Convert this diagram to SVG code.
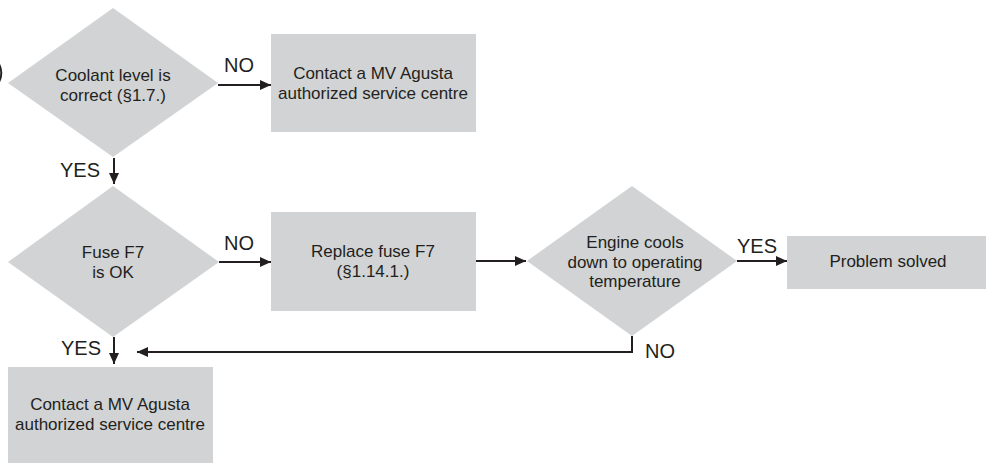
<svg xmlns="http://www.w3.org/2000/svg" width="986" height="463" viewBox="0 0 986 463">
<style>
.shape{fill:#d1d3d4;stroke:none}
.t{font-family:"Liberation Sans",Arial,sans-serif;font-size:17px;fill:#231f20;text-anchor:middle}
.lbl{font-family:"Liberation Sans",Arial,sans-serif;font-size:20px;fill:#231f20}
.conn{fill:none;stroke:#231f20;stroke-width:2}
</style>
<defs>
<marker id="arr" markerUnits="userSpaceOnUse" markerWidth="12" markerHeight="12" refX="11" refY="5" orient="auto">
<path d="M0,0 L11,5 L0,10 z" fill="#231f20"/>
</marker>
</defs>
<rect width="986" height="463" fill="#ffffff"/>
<path d="M-1,64 A20,20 0 0 1 -1,82" class="conn"/>

<g id="d1">
<polygon class="shape" points="113,8 218,83 113,157 8,83"/>
<text class="t" x="113" y="81">Coolant level is</text>
<text class="t" x="113" y="101">correct (§1.7.)</text>
</g>
<g id="b1">
<rect class="shape" x="271" y="34" width="205" height="98"/>
<text class="t" x="373" y="79">Contact a MV Agusta</text>
<text class="t" x="373" y="99">authorized service centre</text>
</g>
<g id="d2">
<polygon class="shape" points="113,186 219,262 113,337 8,262"/>
<text class="t" x="113" y="258">Fuse F7</text>
<text class="t" x="113" y="278">is OK</text>
</g>
<g id="b2">
<rect class="shape" x="271" y="212" width="205" height="99"/>
<text class="t" x="373" y="257">Replace fuse F7</text>
<text class="t" x="373" y="277">(§1.14.1.)</text>
</g>
<g id="d3">
<polygon class="shape" points="632,186 737,261 632,336 527,261"/>
<text class="t" x="635" y="248">Engine cools</text>
<text class="t" x="635" y="268">down to operating</text>
<text class="t" x="635" y="287">temperature</text>
</g>
<g id="b4">
<rect class="shape" x="787" y="236" width="199" height="53"/>
<text class="t" x="888" y="267">Problem solved</text>
</g>
<g id="b3">
<rect class="shape" x="8" y="367" width="205" height="98"/>
<text class="t" x="110" y="410">Contact a MV Agusta</text>
<text class="t" x="110" y="430">authorized service centre</text>
</g>

<g id="connectors">
<line class="conn" x1="218" y1="85" x2="271" y2="85" marker-end="url(#arr)"/>
<text class="lbl" x="224" y="72">NO</text>
<line class="conn" x1="114" y1="158" x2="114" y2="184" marker-end="url(#arr)"/>
<text class="lbl" x="60" y="177">YES</text>
<line class="conn" x1="219" y1="262" x2="271" y2="262" marker-end="url(#arr)"/>
<text class="lbl" x="224" y="250">NO</text>
<line class="conn" x1="476" y1="261" x2="526" y2="261" marker-end="url(#arr)"/>
<line class="conn" x1="737" y1="261" x2="787" y2="261" marker-end="url(#arr)"/>
<text class="lbl" x="737" y="253">YES</text>
<line class="conn" x1="114" y1="337" x2="114" y2="364" marker-end="url(#arr)"/>
<text class="lbl" x="61" y="355">YES</text>
<polyline class="conn" points="632,336 632,352 137,352" marker-end="url(#arr)"/>
<text class="lbl" x="645" y="358">NO</text>
</g>
</svg>
